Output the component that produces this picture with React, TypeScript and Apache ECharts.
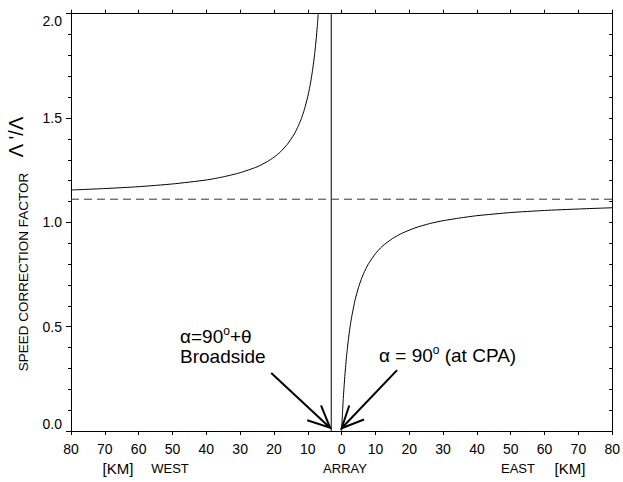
import { useEffect, useRef } from "react";
import * as echarts from "echarts";

// Distance along track (km); west is negative, east positive
const westX = [-80, -70, -60, -50, -40, -35, -30, -25, -22, -20, -18, -16, -14, -13, -12, -11, -10, -9.5, -9, -8.5, -8, -7.5, -7.2, -6.9];
const westY = [1.155, 1.162, 1.171, 1.184, 1.203, 1.218, 1.238, 1.266, 1.291, 1.312, 1.339, 1.375, 1.423, 1.455, 1.493, 1.541, 1.603, 1.641, 1.686, 1.739, 1.803, 1.881, 1.937, 2.0];
const eastX = [0, 0.25, 0.5, 0.75, 1, 1.5, 2, 2.5, 3, 4, 5, 6, 7, 8, 10, 12, 15, 18, 22, 26, 30, 35, 40, 50, 60, 70, 80];
const eastY = [0, 0.084, 0.156, 0.218, 0.273, 0.365, 0.438, 0.499, 0.549, 0.629, 0.688, 0.735, 0.772, 0.803, 0.85, 0.885, 0.922, 0.949, 0.975, 0.994, 1.008, 1.021, 1.032, 1.047, 1.057, 1.064, 1.07];
const arrayPosition = -3.07;
const asymptote = 1.111;

// Annotation arrows in data coordinates: [fromX, fromY, toX, toY]
const broadsideArrow = [-20.8, 0.278, -3.42, 0.016];
const cpaArrow = [16.4, 0.292, 0, 0.013];

const bottomLabels = [
  { text: "[KM]", x: 118, size: 15 },
  { text: "WEST", x: 170, size: 13 },
  { text: "ARRAY", x: 345, size: 13 },
  { text: "EAST", x: 518, size: 13 },
  { text: "[KM]", x: 570, size: 15 },
];

const FONT = "Liberation Sans";

export default function App() {
  const ref = useRef<HTMLDivElement>(null);
  useEffect(() => {
    if (!ref.current) return;
    const chart = echarts.init(ref.current, undefined, { renderer: "svg" });
    const axisLine = { show: true, onZero: false, lineStyle: { color: "#000", width: 1 } };
    chart.setOption({
      animation: false,
      backgroundColor: "#fff",
      grid: { left: 71, right: 4.5, top: 13.7, bottom: 51, containLabel: false },
      xAxis: [
        {
          type: "value", min: -80, max: 80, interval: 10, position: "bottom",
          axisLine, axisTick: { show: true, inside: false, length: 4, lineStyle: { color: "#000" } },
          axisLabel: { formatter: (v: number) => String(Math.abs(v)), color: "#000", fontSize: 14, fontFamily: FONT, margin: 11 },
          splitLine: { show: false },
        },
        {
          type: "value", min: -80, max: 80, interval: 10, position: "top",
          axisLine, axisTick: { show: true, inside: false, length: 4, lineStyle: { color: "#000" } },
          axisLabel: { show: false }, splitLine: { show: false },
        },
      ],
      yAxis: [
        {
          type: "value", min: 0, max: 2, interval: 0.5, position: "left",
          axisLine, axisTick: { show: true, inside: false, length: 5, lineStyle: { color: "#000" } },
          minorTick: { show: true, splitNumber: 5, length: 3, lineStyle: { color: "#000" } },
          axisLabel: {
            formatter: (v: number) => v.toFixed(1), color: "#000", fontSize: 14, fontFamily: FONT, margin: 9,
            verticalAlignMinLabel: "bottom", verticalAlignMaxLabel: "top",
          },
          splitLine: { show: false }, minorSplitLine: { show: false },
        },
        {
          type: "value", min: 0, max: 2, interval: 0.5, position: "right",
          axisLine, axisTick: { show: true, inside: true, length: 3, lineStyle: { color: "#000" } },
          minorTick: { show: true, splitNumber: 5, length: 3, lineStyle: { color: "#000" } },
          axisLabel: { show: false }, splitLine: { show: false }, minorSplitLine: { show: false },
        },
      ],
      series: [
        {
          type: "line", showSymbol: false, clip: true, smooth: 0.2,
          data: westX.map((x, i) => [x, westY[i]]),
          lineStyle: { color: "#000", width: 1 },
        },
        {
          type: "line", showSymbol: false, clip: true, smooth: 0.2,
          data: eastX.map((x, i) => [x, eastY[i]]),
          lineStyle: { color: "#000", width: 1 },
        },
        {
          type: "line", showSymbol: false, clip: true,
          data: [[arrayPosition, 0], [arrayPosition, 2]],
          lineStyle: { color: "#000", width: 1 },
        },
        {
          type: "line", showSymbol: false, clip: true,
          data: [[-80, asymptote], [80, asymptote]],
          lineStyle: { color: "#333", width: 1, type: [8, 5] },
        },
      ],
    });

    const arrowEls = (a: number[]) => {
      const p0 = chart.convertToPixel({ gridIndex: 0 }, [a[0], a[1]]) as number[];
      const p1 = chart.convertToPixel({ gridIndex: 0 }, [a[2], a[3]]) as number[];
      const ang = Math.atan2(p0[1] - p1[1], p0[0] - p1[0]);
      const len = 24;
      const spread = (25 * Math.PI) / 180;
      const w1 = [p1[0] + len * Math.cos(ang + spread), p1[1] + len * Math.sin(ang + spread)];
      const w2 = [p1[0] + len * Math.cos(ang - spread), p1[1] + len * Math.sin(ang - spread)];
      const style = { stroke: "#000", lineWidth: 2 };
      return [
        { type: "line", shape: { x1: p0[0], y1: p0[1], x2: p1[0], y2: p1[1] }, style },
        { type: "polyline", shape: { points: [w1, p1, w2] }, style },
      ];
    };

    const textStyle = (size: number) => ({ fill: "#000", fontSize: size, fontFamily: FONT });

    chart.setOption({
      graphic: [
        ...arrowEls(broadsideArrow),
        ...arrowEls(cpaArrow),
        {
          type: "text", left: 180, top: 325,
          style: {
            text: "{a|α=90}{s|o}{a|+θ}",
            rich: {
              a: { ...textStyle(19), lineHeight: 22 },
              s: { ...textStyle(12), lineHeight: 22, verticalAlign: "top" },
            },
          },
        },
        { type: "text", left: 180, top: 347, style: { text: "Broadside", ...textStyle(19) } },
        {
          type: "text", left: 379, top: 344,
          style: {
            text: "{a|α = 90}{s|o}{a| (at CPA)}",
            rich: {
              a: { ...textStyle(19), lineHeight: 22 },
              s: { ...textStyle(12), lineHeight: 22, verticalAlign: "top" },
            },
          },
        },
        ...bottomLabels.map((b) => ({
          type: "text", x: b.x, y: 468,
          style: { text: b.text, ...textStyle(b.size), textAlign: "center", textVerticalAlign: "middle" },
        })),
        {
          type: "text", x: 23, y: 272, rotation: Math.PI / 2,
          style: { text: "SPEED CORRECTION FACTOR", ...textStyle(13.5), textAlign: "center", textVerticalAlign: "middle" },
        },
        {
          type: "text", x: 16, y: 137, rotation: Math.PI / 2,
          style: { text: "Λ '/Λ", ...textStyle(20), textAlign: "center", textVerticalAlign: "middle" },
        },
      ],
    });

    return () => chart.dispose();
  }, []);

  return <div ref={ref} style={{ position: "fixed", left: 0, top: 0, width: 623, height: 482, background: "#fff" }} />;
}
